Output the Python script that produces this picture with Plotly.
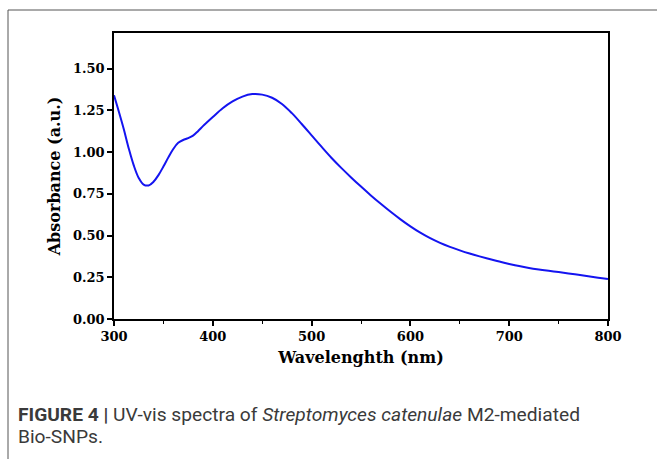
import plotly.graph_objects as go

# UV-vis absorbance spectrum (wavelength in nm, absorbance in a.u.)
wavelength = [300, 305, 310, 315, 320, 325, 330, 335, 340, 345, 350, 355, 360, 365,
              370, 375, 380, 385, 390, 395, 400, 410, 420, 430, 440, 450, 460, 470,
              480, 490, 500, 510, 520, 530, 540, 550, 560, 570, 580, 590, 600, 610,
              620, 630, 640, 650, 660, 670, 680, 690, 700, 710, 720, 730, 740, 750,
              760, 770, 780, 790, 800]
absorbance = [1.34, 1.24, 1.135, 1.02, 0.92, 0.845, 0.805, 0.80, 0.822, 0.862, 0.913,
              0.968, 1.018, 1.055, 1.072, 1.083, 1.098, 1.125, 1.155, 1.183, 1.21,
              1.262, 1.303, 1.332, 1.347, 1.344, 1.325, 1.288, 1.233, 1.168, 1.10,
              1.032, 0.966, 0.905, 0.848, 0.793, 0.74, 0.69, 0.642, 0.597, 0.555,
              0.517, 0.484, 0.456, 0.432, 0.411, 0.392, 0.375, 0.359, 0.344, 0.330,
              0.317, 0.306, 0.297, 0.289, 0.281, 0.273, 0.265, 0.256, 0.247, 0.239]

x_ticks = [300, 400, 500, 600, 700, 800]
x_minor = [350, 450, 550, 650, 750]
y_ticks = [0.00, 0.25, 0.50, 0.75, 1.00, 1.25, 1.50]
y_tick_text = ["0.00", "0.25", "0.50", "0.75", "1.00", "1.25", "1.50"]

x_title = "Wavelenghth (nm)"
y_title = "Absorbance (a.u.)"
caption_1 = "<b>FIGURE 4 |</b> UV-vis spectra of <i>Streptomyces catenulae</i> M2-mediated"
caption_2 = "Bio-SNPs."

W, H = 657, 459
L, R, T, B = 114, 49, 33, 140
pw, ph = W - L - R, H - T - B


def px_x(p):
    return (p - L) / pw


def px_y(p):
    return (H - B - p) / ph


axis_font = dict(family="DejaVu Serif", size=13, color="black")
title_font = dict(family="DejaVu Serif", size=16, color="black")

fig = go.Figure()
fig.add_trace(go.Scatter(
    x=wavelength, y=absorbance, mode="lines",
    line=dict(color="#1414f0", width=2, shape="spline", smoothing=1),
    hoverinfo="skip", showlegend=False,
))

fig.update_layout(
    width=W, height=H,
    margin=dict(l=L, r=R, t=T, b=B),
    paper_bgcolor="white", plot_bgcolor="white",
    xaxis=dict(
        range=[300, 800], tickvals=x_ticks, ticks="outside", ticklen=5,
        tickwidth=1.5, tickcolor="black",
        minor=dict(tickvals=x_minor, ticks="outside",
                   ticklen=3, tickwidth=1.2, tickcolor="black"),
        showline=True, linecolor="black", linewidth=1.5, mirror=True,
        showgrid=False, zeroline=False,
        tickfont=dict(axis_font, weight="bold"),
        title=dict(text=x_title, font=dict(title_font, weight="bold"), standoff=8),
    ),
    yaxis=dict(
        range=[0, 1.713], tickvals=y_ticks, ticktext=y_tick_text,
        ticks="outside", ticklen=5, tickwidth=1.5, tickcolor="black",
        showline=True, linecolor="black", linewidth=1.5, mirror=True,
        showgrid=False, zeroline=False,
        tickfont=dict(axis_font, weight="bold"),
        title=dict(text=y_title, font=dict(title_font, weight="bold"), standoff=8),
    ),
)

# outer figure frame
frame = dict(type="line", xref="paper", yref="paper",
             line=dict(color="#555555", width=1))
fig.add_shape(**frame, x0=px_x(8), y0=px_y(10), x1=px_x(670), y1=px_y(10))
fig.add_shape(**frame, x0=px_x(8), y0=px_y(10), x1=px_x(8), y1=px_y(470))

cap_font = dict(family="Roboto", size=19.2, color="#3a3a3a")
fig.add_annotation(text=caption_1, xref="paper", yref="paper",
                   x=px_x(16), y=px_y(414), xanchor="left", yanchor="middle",
                   showarrow=False, font=cap_font)
fig.add_annotation(text=caption_2, xref="paper", yref="paper",
                   x=px_x(16), y=px_y(436), xanchor="left", yanchor="middle",
                   showarrow=False, font=cap_font)

fig.write_html("out.html")
